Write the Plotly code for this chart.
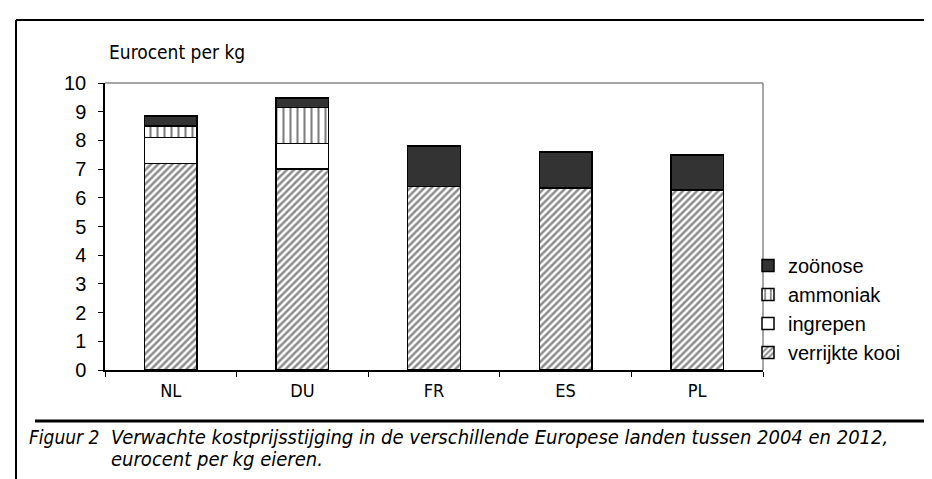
import plotly.graph_objects as go

countries = ["NL", "DU", "FR", "ES", "PL"]
verrijkte_kooi = [7.2, 7.0, 6.4, 6.35, 6.27]
ingrepen = [0.9, 0.9, 0.0, 0.0, 0.0]
ammoniak = [0.4, 1.25, 0.0, 0.0, 0.0]
zoonose = [0.35, 0.32, 1.4, 1.25, 1.23]
y_ticks = list(range(0, 11))

W, H = 932, 479
L, R, T, B = 97, 755, 75, 362
NARROW = "Liberation Sans Narrow, DejaVu Sans Condensed, Arial Narrow, sans-serif"
REG = "Liberation Sans, Arial, sans-serif"


def px(x):
    return (x - L) / (R - L)


def py(y):
    return (B - y) / (B - T)


fig = go.Figure()
line = dict(color="black", width=1.5)
fig.add_trace(go.Bar(
    name="verrijkte kooi", x=countries, y=verrijkte_kooi, legendgroup="a", legendrank=4,
    marker=dict(color="white", line=line,
                pattern=dict(shape="/", size=5, solidity=0.5, fgcolor="#1a1a1a", bgcolor="white")),
))
fig.add_trace(go.Bar(
    name="ingrepen", x=countries, y=ingrepen, legendgroup="b", legendrank=3,
    marker=dict(color="white", line=line),
))
fig.add_trace(go.Bar(
    name="ammoniak", x=countries, y=ammoniak, legendgroup="c", legendrank=2,
    marker=dict(color="white", line=line,
                pattern=dict(shape="|", size=7, solidity=0.3, fgcolor="black", bgcolor="white")),
))
fig.add_trace(go.Bar(
    name="zoönose", x=countries, y=zoonose, legendgroup="d", legendrank=1,
    marker=dict(color="#333333", line=line),
))

shapes = [
    dict(type="line", xref="paper", yref="paper", x0=0, x1=1, y0=1, y1=1,
         line=dict(color="#888888", width=1.5)),
    dict(type="line", xref="paper", yref="paper", x0=1, x1=1, y0=0, y1=1,
         line=dict(color="#888888", width=1.5)),
    dict(type="line", xref="paper", yref="paper", x0=px(8), x1=px(8), y0=py(12), y1=py(480),
         line=dict(color="black", width=2)),
    dict(type="line", xref="paper", yref="paper", x0=px(8), x1=px(930), y0=py(12), y1=py(12),
         line=dict(color="black", width=2)),
    dict(type="line", xref="paper", yref="paper", x0=px(930), x1=px(930), y0=py(12), y1=py(413),
         line=dict(color="black", width=2)),
    dict(type="line", xref="paper", yref="paper", x0=px(27), x1=px(933), y0=py(413), y1=py(413),
         line=dict(color="black", width=3)),
]

annotations = [
    dict(text="Eurocent per kg", xref="paper", yref="paper", x=px(99), y=py(44),
         xanchor="left", yanchor="middle", showarrow=False,
         font=dict(family=NARROW, size=19, color="black")),
    dict(text="<i>Figuur 2</i>", xref="paper", yref="paper", x=px(19), y=py(429),
         xanchor="left", yanchor="middle", showarrow=False,
         font=dict(family=NARROW, size=19, color="black")),
    dict(text="<i>Verwachte kostprijsstijging in de verschillende Europese landen tussen 2004 en 2012,</i>",
         xref="paper", yref="paper", x=px(101), y=py(429),
         xanchor="left", yanchor="middle", showarrow=False,
         font=dict(family=NARROW, size=20, color="black")),
    dict(text="<i>eurocent per kg eieren.</i>", xref="paper", yref="paper", x=px(101), y=py(451),
         xanchor="left", yanchor="middle", showarrow=False,
         font=dict(family=NARROW, size=20, color="black")),
]

fig.update_layout(
    width=W, height=H,
    margin=dict(l=L, r=W - R, t=T, b=H - B),
    barmode="stack", bargap=0.6,
    plot_bgcolor="white", paper_bgcolor="white",
    showlegend=True,
    legend=dict(traceorder="normal", x=px(740), y=py(238), xanchor="left", yanchor="top",
                font=dict(family=REG, size=20, color="black"), bgcolor="rgba(0,0,0,0)",
                itemwidth=30, tracegroupgap=3),
    shapes=shapes,
    annotations=annotations,
    xaxis=dict(showline=True, linecolor="black", linewidth=1.5, ticks="outside",
               tickson="boundaries", ticklen=5, tickcolor="black", ticklabelstandoff=4,
               tickfont=dict(family=NARROW, size=18, color="black"), showgrid=False),
    yaxis=dict(range=[0, 10], tickvals=y_ticks, showline=True, linecolor="black", linewidth=1.5,
               ticks="outside", ticklen=5, tickcolor="black", showgrid=False, zeroline=False,
               ticklabelstandoff=8,
               tickfont=dict(family=REG, size=20, color="black")),
)

fig.write_html("out.html")
